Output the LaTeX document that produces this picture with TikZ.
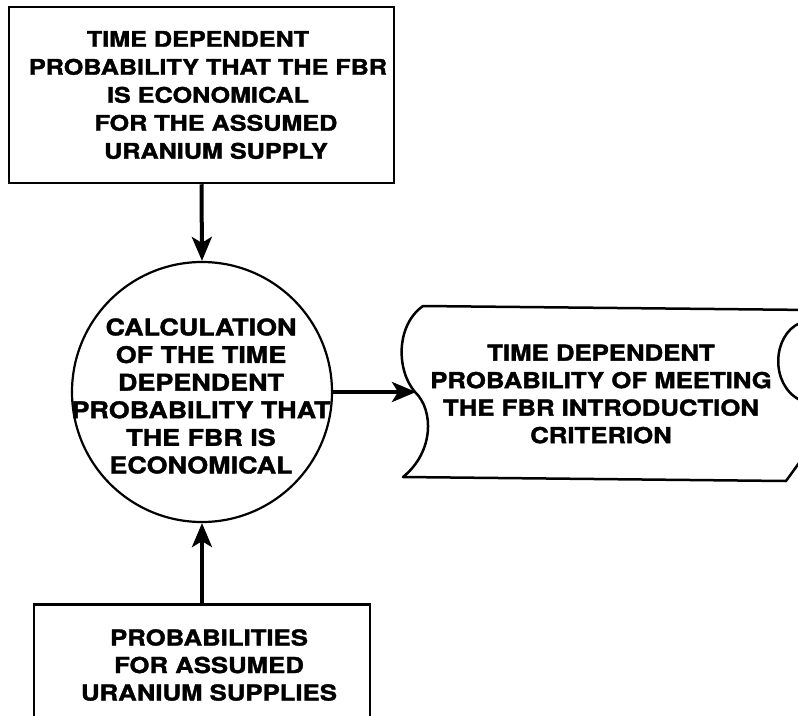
\documentclass[tikz,border=0pt]{standalone}
\usepackage{fontspec}
\setmainfont[FakeStretch=1.17, BoldFeatures={FakeBold=1.6}]{TeX Gyre Heros}
\usetikzlibrary{arrows.meta}
\begin{document}
\begin{tikzpicture}[x=1pt,y=-1pt,
  txt/.style={font=\bfseries\fontsize{22}{27.5}\selectfont, align=center, inner sep=0pt},
  boxnode/.style={draw, line width=2.5pt, rectangle, inner sep=0pt},
  circnode/.style={draw, line width=2.2pt, circle, inner sep=0pt, minimum size=260pt},
  arr/.style={line width=4pt, -{Stealth[length=24pt,width=20pt,inset=6pt]}},
  outline/.style={line width=2.5pt, line join=round}]
\clip (0,0) rectangle (798,715);
\fill[white] (0,0) rectangle (798,715);
% top box
\node[boxnode, minimum width=385pt, minimum height=176pt] (top) at (201.5,95) {};
\node[txt, font=\bfseries\fontsize{21.5}{28}\selectfont] (toptxt) at (208,95) {\hspace*{-20pt}TIME DEPENDENT\\PROBABILITY THAT THE FBR\\IS ECONOMICAL\\\hspace*{16pt}FOR THE ASSUMED\\\hspace*{16pt}URANIUM SUPPLY};
% circle
\node[circnode] (circ) at (202,392) {};
\node[txt, font=\bfseries\fontsize{23}{27.6}\selectfont] (circtxt) at (201,396) {CALCULATION\\OF THE TIME\\DEPENDENT\\PROBABILITY THAT\\THE FBR IS\\ECONOMICAL};
% bottom box (cut by the lower edge)
\node[boxnode, anchor=north, minimum width=336pt, minimum height=150pt] (bot) at (202,603) {};
\node[txt] (bottxt) at (209,665) {PROBABILITIES\\FOR ASSUMED\\URANIUM SUPPLIES};
% tape / output shape (cut by the right edge)
\draw[outline] (812,310) -- (423,306)
  .. controls (396,325) and (396,370) .. (415,392)
  .. controls (434,410) and (434,452) .. (403,477)
  -- (786,481) -- (812,445);
\draw[outline] (800,323) .. controls (772,335) and (770,385) .. (800,400);
\coordinate (tapein) at (416,392);
\node[txt] (tapetxt) at (601,394) {TIME DEPENDENT\\PROBABILITY OF MEETING\\THE FBR INTRODUCTION\\CRITERION};
% connectors
\draw[arr] (top.south) -- (circ.north);
\draw[arr] (bot.north) -- (circ.south);
\draw[arr] (circ.east) -- (tapein);
\end{tikzpicture}
\end{document}
